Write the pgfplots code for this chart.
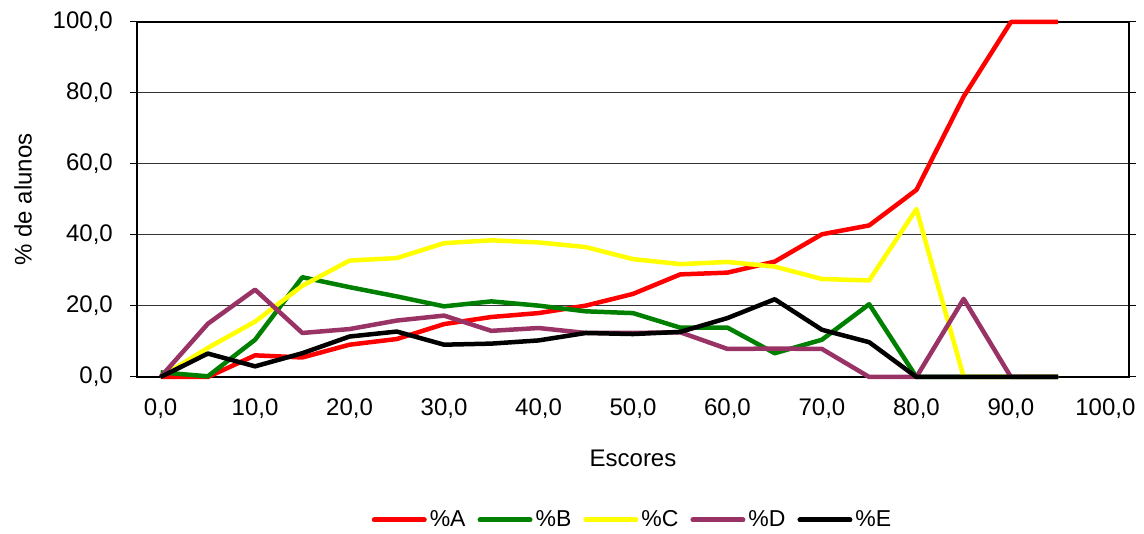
\documentclass[border=0pt]{standalone}
\usepackage{pgfplots}
\pgfplotsset{compat=1.18}
\usepackage{fontspec}
\setmainfont{Liberation Sans}
\definecolor{cA}{HTML}{FF0000}
\definecolor{cB}{HTML}{008000}
\definecolor{cC}{HTML}{FFFF00}
\definecolor{cD}{HTML}{993366}
\definecolor{cE}{HTML}{000000}
\begin{document}
\fontsize{24}{28}\selectfont
\begin{tikzpicture}[x=1pt,y=1pt]
\useasboundingbox (0,0) rectangle (1144,534);
\begin{axis}[
  at={(137pt,157pt)}, anchor=south west,
  scale only axis, width=992pt, height=355pt,
  xmin=-2.5, xmax=102.5, ymin=0, ymax=100,
  xtick={0,10,...,100}, ytick={0,20,...,100},
  /pgf/number format/.cd, fixed, fixed zerofill, precision=1, use comma, assume math mode=true,
  /pgfplots/.cd,
  tick label style={font=\fontsize{24}{28}\selectfont},
  label style={font=\fontsize{24}{28}\selectfont},
  x tick style={draw=none},
  y tick style={black, line width=1pt},
  tick align=outside, major tick length=7pt,
  extra x ticks={-2.5,2.5,7.5,12.5,17.5,22.5,27.5,32.5,37.5,42.5,47.5,52.5,57.5,62.5,67.5,72.5,77.5,82.5,87.5,92.5,97.5,102.5},
  extra x tick labels={},
  extra x tick style={grid=none, tick style={draw=black, line width=1pt}, major tick length=7pt},
  ymajorgrids, grid style={black!80, line width=1pt},
  axis line style={line width=2pt},
  xticklabel style={yshift=-7pt},
  yticklabel style={xshift=-9pt},
  xlabel={Escores}, ylabel={\% de alunos},
  x label style={at={(axis description cs:0.5,0)}, anchor=center, yshift=-81pt},
  y label style={at={(axis description cs:0,0.5)}, anchor=center, yshift=114pt},
  clip=false,
  legend columns=5,
  legend style={at={(axis description cs:0.4985,-0.4028)}, anchor=center, draw=none, font=\fontsize{23}{27}\selectfont, nodes={inner sep=0pt}, cells={anchor=west}, /tikz/every even column/.append style={column sep=12pt}, /tikz/every odd column/.append style={column sep=3pt}},
  legend image code/.code={\draw[#1, line width=5pt, line cap=round] (0pt,0pt) -- (50pt,0pt);},
  every axis plot/.append style={line width=4.5pt, line join=round, mark=none},
]
\addplot[cA] coordinates {(0,0) (5,0) (10,6.1) (15,5.5) (20,9.1) (25,10.7) (30,14.9) (35,16.9) (40,18.0) (45,20.1) (50,23.4) (55,28.9) (60,29.4) (65,32.5) (70,40.2) (75,42.7) (80,52.7) (85,79) (90,100) (95,100)};
\addplot[cB] coordinates {(0,1.3) (5,0.2) (10,10.5) (15,28.1) (20,25.3) (25,22.7) (30,19.9) (35,21.3) (40,20.1) (45,18.5) (50,18.0) (55,13.9) (60,13.9) (65,6.7) (70,10.5) (75,20.5) (80,0) (85,0) (90,0) (95,0)};
\addplot[cC] coordinates {(0,0) (5,8.2) (10,15.6) (15,25.7) (20,32.8) (25,33.5) (30,37.7) (35,38.5) (40,37.9) (45,36.6) (50,33.2) (55,31.8) (60,32.4) (65,31.1) (70,27.6) (75,27.2) (80,47.3) (85,0) (90,0) (95,0)};
\addplot[cD] coordinates {(0,0) (5,15.0) (10,24.6) (15,12.4) (20,13.5) (25,15.9) (30,17.3) (35,13.0) (40,13.8) (45,12.4) (50,12.4) (55,12.6) (60,7.9) (65,8.0) (70,7.9) (75,0) (80,0) (85,22.0) (90,0) (95,0)};
\addplot[cE] coordinates {(0,0) (5,6.6) (10,3.0) (15,6.7) (20,11.4) (25,12.8) (30,9.1) (35,9.4) (40,10.3) (45,12.4) (50,12.1) (55,12.7) (60,16.6) (65,21.9) (70,13.3) (75,9.8) (80,0) (85,0) (90,0) (95,0)};
\legend{\%A,\%B,\%C,\%D,\%E}
\end{axis}
\end{tikzpicture}
\end{document}
